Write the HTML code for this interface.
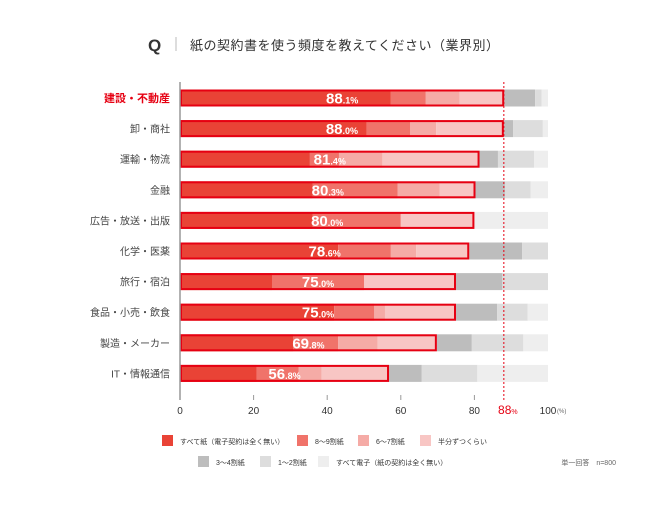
<!DOCTYPE html>
<html><head><meta charset="utf-8"><style>
body{margin:0;background:#fff;font-family:"Liberation Sans","Noto Sans CJK JP",sans-serif;}
svg text{font-family:"Liberation Sans","Noto Sans CJK JP",sans-serif;}
</style></head><body>
<svg id="chart" width="650" height="502" xmlns="http://www.w3.org/2000/svg">
<text x="148" y="51" font-size="17" font-weight="bold" fill="#333">Q</text>
<line x1="176" y1="37" x2="176" y2="51" stroke="#bbb"/>
<text x="190" y="50" font-size="13" fill="#333" letter-spacing="0.5">紙の契約書を使う頻度を教えてください（業界別）</text>
<g id="bars"></g>
<g id="axis"></g>
<g id="legend"></g>
</svg>
<script>
const categories=["建設・不動産","卸・商社","運輸・物流","金融","広告・放送・出版","化学・医薬","旅行・宿泊","食品・小売・飲食","製造・メーカー","IT・情報通信"];
const allPaper=[57.3,50.7,35.3,36,36,43,25,41.9,30.8,20.8];
const paper89=[9.5,11.8,7.9,23.1,24,14.3,25,10.9,12.2,11.4];
const paper67=[9.2,7.1,11.8,11.5,0,6.9,0,2.9,10.7,6.3];
const paperHalf=[12.1,18.4,26.4,9.7,20,14.4,25,19.3,16.1,18.3];
const paper34=[8.4,2.5,5.0,8,0,14.4,12.6,11.2,9.5,8.9];
const paper12=[1.8,8.1,9.8,7,0,7.0,12.4,8.3,14,15.1];
const allElec=[1.7,1.4,3.8,4.7,20,0,0,5.5,6.7,19.2];
const paperTotals=["88.1","88.0","81.4","80.3","80.0","78.6","75.0","75.0","69.8","56.8"];
const xTicks=[0,20,40,60,80,100];
const refValue=88;
const seriesNames=["すべて紙（電子契約は全く無い）","8〜9割紙","6〜7割紙","半分ずつくらい","3〜4割紙","1〜2割紙","すべて電子（紙の契約は全く無い）"];
const series=[allPaper,paper89,paper67,paperHalf,paper34,paper12,allElec];
const colors=["#e94336","#f0736a","#f5aba6","#f8c6c4","#bdbdbd","#dddddd","#eeeeee"];
const NS="http://www.w3.org/2000/svg";
const x0=180,x1=548,yTop=82,yBot=400,rowStart=98,rowStep=30.6,barH=17;
const xs=v=>x0+(x1-x0)*v/100;
const ys=i=>rowStart+i*rowStep;
function mk(tag,attrs,parent,text){const e=document.createElementNS(NS,tag);for(const k in attrs)e.setAttribute(k,attrs[k]);if(text!==undefined)e.textContent=text;parent.appendChild(e);return e;}
const gb=document.getElementById('bars'),ga=document.getElementById('axis'),gl=document.getElementById('legend');
categories.forEach((c,i)=>{
  const cy=ys(i);
  const lab=mk('text',{x:170,y:cy+4,'font-size':i===0?11:10,'text-anchor':'end',fill:i===0?'#e60012':'#444','font-weight':i===0?'bold':'normal'},gb,c);
  
  
  let acc=0;
  series.forEach((s,k)=>{
    if(s[i]>0){
      const r=mk('rect',{x:xs(acc),y:cy-barH/2,width:xs(acc+s[i])-xs(acc),height:barH,fill:colors[k]},gb);
      
      
    }
    acc+=s[i];
  });
  const tot=allPaper[i]+paper89[i]+paper67[i]+paperHalf[i];
  const o=mk('rect',{x:xs(0)+1,y:cy-barH/2+1,width:xs(tot)-xs(0)-2,height:barH-2,fill:'none',stroke:'#e60012','stroke-width':2},gb);
  
  
  const parts=paperTotals[i].split('.');
  const t=mk('text',{x:(xs(0)+xs(tot))/2,y:cy+5.5,'text-anchor':'middle',fill:'#fff','font-weight':'bold','font-size':15},gb);
  
  
  mk('tspan',{},t,parts[0]);
  mk('tspan',{'font-size':9},t,'.'+parts[1]+'%');
});
const ax=mk('line',{x1:x0,y1:yTop,x2:x0,y2:yBot,stroke:'#999','stroke-width':1.5},ga);


xTicks.forEach(v=>{
  if(v>0&&v<100){const tk=mk('line',{x1:xs(v),y1:yBot-5,x2:xs(v),y2:yBot,stroke:'#999'},ga);
  
  }
  const tl=mk('text',{x:xs(v),y:yBot+14,'text-anchor':'middle','font-size':10,fill:'#333'},ga,String(v));
  
  
});
mk('text',{x:xs(100)+9,y:yBot+13,'font-size':6,fill:'#666'},ga,'(%)');
const rl=mk('line',{x1:xs(refValue),y1:yTop,x2:xs(refValue),y2:yBot,stroke:'#e60012','stroke-dasharray':'2,2'},ga);


const rt=mk('text',{x:xs(refValue)+4,y:yBot+14,'text-anchor':'middle',fill:'#e60012','font-size':12},ga);


mk('tspan',{},rt,String(refValue));mk('tspan',{'font-size':7},rt,'%');
const legPos=[[162,441],[297,441],[358,441],[420,441],[198,462],[260,462],[318,462]];
seriesNames.forEach((n,k)=>{
  const [lx,ly]=legPos[k];
  const sw=mk('rect',{x:lx,y:ly-6,width:11,height:11,fill:colors[k]},gl);
  
  
  const lt=mk('text',{x:lx+18,y:ly+3,'font-size':7,fill:'#333'},gl,n);
  
  
});
const nt=mk('text',{x:616,y:465,'text-anchor':'end','font-size':7,fill:'#666'},gl,'単一回答　n=800');


</script>
</body></html>
